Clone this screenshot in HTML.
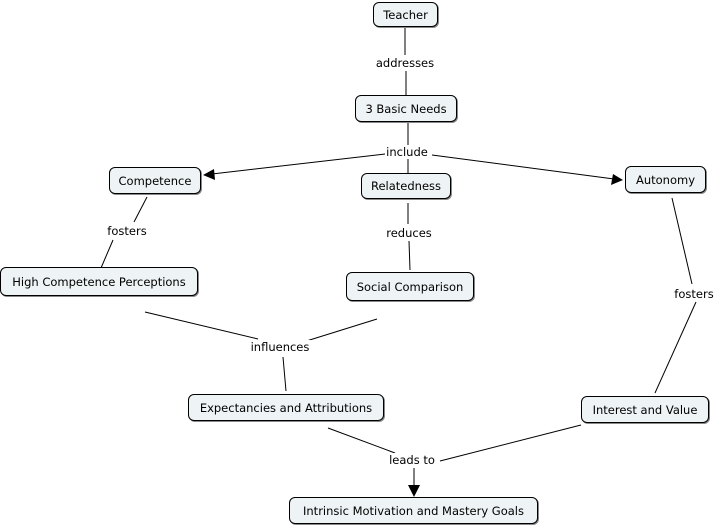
<!DOCTYPE html>
<html><head><style>
body{margin:0;background:#fff;width:719px;height:528px;overflow:hidden;position:relative;font-family:"DejaVu Sans",Verdana,sans-serif;font-size:11.5px;color:#000}
.n{position:absolute;box-sizing:border-box;border:1px solid #000;border-radius:6px;background:#eef3f5;display:flex;align-items:center;justify-content:center;white-space:nowrap;box-shadow:1px 1px 0 #888}
.l{position:absolute;transform:translate(-50%,-50%);white-space:nowrap;background:#fff;padding:0 1px}
svg{position:absolute;left:0;top:0}
</style></head><body>
<svg width="719" height="528">
<g stroke="#000" stroke-width="1" fill="none">
<line x1="405" y1="27" x2="405" y2="55"/><line x1="406" y1="71" x2="406" y2="95"/>
<line x1="408" y1="122" x2="408" y2="146"/>
<line x1="385" y1="154" x2="212" y2="174"/>
<line x1="432" y1="155" x2="614" y2="179"/>
<line x1="408" y1="158" x2="408" y2="173"/>
<line x1="147" y1="197" x2="134" y2="222"/><line x1="113" y1="240" x2="101" y2="268"/>
<line x1="408" y1="203" x2="408" y2="224"/><line x1="409" y1="241" x2="410" y2="270"/>
<line x1="672" y1="198" x2="692" y2="284"/><line x1="696" y1="302" x2="655" y2="393"/>
<line x1="145" y1="312" x2="258" y2="339"/><line x1="377" y1="319" x2="300" y2="343"/>
<line x1="283" y1="357" x2="286" y2="391"/>
<line x1="328" y1="428" x2="395" y2="453"/><line x1="581" y1="425" x2="440" y2="461"/>
<line x1="414" y1="468" x2="414" y2="486"/>
</g>
<g fill="#000">
<polygon points="203,175 214,169 215,180"/>
<polygon points="623,180 611,185 613,174"/>
<polygon points="414,497 408,485 420,485"/>
</g>
</svg>
<div class="n" style="left:373px;top:2px;width:65px;height:25px">Teacher</div>
<div class="n" style="left:355px;top:95px;width:102px;height:27px">3 Basic Needs</div>
<div class="n" style="left:109px;top:167px;width:92px;height:27px">Competence</div>
<div class="n" style="left:361px;top:173px;width:90px;height:26px">Relatedness</div>
<div class="n" style="left:625px;top:166px;width:81px;height:27px">Autonomy</div>
<div class="n" style="left:0px;top:267px;width:198px;height:29px">High Competence Perceptions</div>
<div class="n" style="left:346px;top:272px;width:128px;height:29px">Social Comparison</div>
<div class="n" style="left:188px;top:394px;width:196px;height:27px">Expectancies and Attributions</div>
<div class="n" style="left:581px;top:396px;width:128px;height:27px">Interest and Value</div>
<div class="n" style="left:289px;top:497px;width:249px;height:27px">Intrinsic Motivation and Mastery Goals</div>
<div class="l" style="left:405px;top:63px">addresses</div>
<div class="l" style="left:407px;top:152px">include</div>
<div class="l" style="left:127px;top:231px">fosters</div>
<div class="l" style="left:409px;top:233px">reduces</div>
<div class="l" style="left:694px;top:294px">fosters</div>
<div class="l" style="left:280px;top:347px">influences</div>
<div class="l" style="left:412px;top:460px">leads to</div>
</body></html>
